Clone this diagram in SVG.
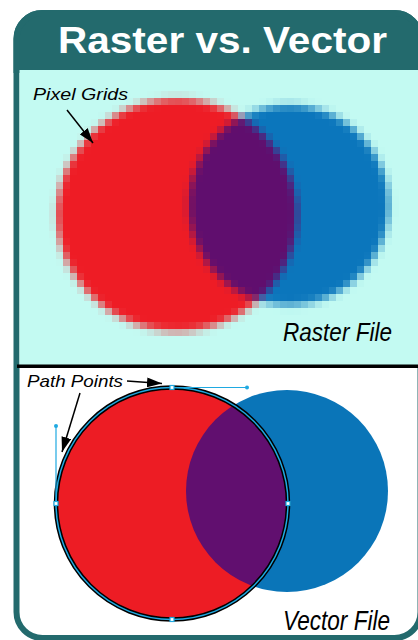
<svg xmlns="http://www.w3.org/2000/svg" width="418" height="640" viewBox="0 0 418 640">
  <style>
    .title { font-family: "Liberation Sans", Arial, sans-serif; font-weight: bold; fill: #ffffff; }
    .lbl { font-family: "Liberation Sans", Arial, sans-serif; font-style: italic; fill: #000000; }
    .conn { stroke: #000000; stroke-width: 1.5; fill: none; marker-end: url(#arr); }
    .handle { stroke: #1fa9e1; stroke-width: 1.2; fill: none; }
    .anchor { fill: #ffffff; stroke: #1fa9e1; stroke-width: 1.2; }
    .hdot { fill: #1fa9e1; }
  </style>
  <defs>
    <marker id="arr" markerUnits="userSpaceOnUse" markerWidth="16" markerHeight="10" refX="15" refY="5" orient="auto">
      <path d="M0,0 L15,5 L0,10 Z" fill="#000000"/>
    </marker>
    <filter id="pixelate" filterUnits="userSpaceOnUse" primitiveUnits="userSpaceOnUse" x="0" y="0" width="418" height="364" color-interpolation-filters="sRGB">
      <feGaussianBlur in="SourceGraphic" stdDeviation="3.2" result="b"/>
      <feFlood x="3" y="3" width="1" height="1" flood-color="#000000" flood-opacity="1"/>
      <feOffset dx="0" dy="0" x="0" y="0" width="7" height="7"/>
      <feTile x="0" y="0" width="418" height="364" result="t"/>
      <feComposite in="b" in2="t" operator="in"/>
      <feMorphology operator="dilate" radius="3"/>
    </filter>
    <clipPath id="rasterRed">
      <ellipse cx="177" cy="215" rx="120" ry="116"/>
    </clipPath>
    <clipPath id="vectorRed">
      <circle cx="172" cy="503.5" r="116"/>
    </clipPath>
  </defs>

  <rect width="418" height="640" fill="#ffffff"/>

  <g id="frame">
    <rect x="16.5" y="13" width="404" height="625" rx="26" fill="#ffffff" stroke="#236a6d" stroke-width="6"/>
    <path d="M16.5,70 V39 A26,26 0 0 1 42.5,13 H394.5 A26,26 0 0 1 420.5,39 V70 Z" fill="#236a6d" stroke="#236a6d" stroke-width="6"/>
    <rect x="19.5" y="70" width="400" height="295" fill="#c3faf2"/>
    <rect x="17" y="364.5" width="402" height="3.5" fill="#000000"/>
    <text class="title" x="58" y="53" font-size="37" textLength="329" lengthAdjust="spacingAndGlyphs">Raster vs. Vector</text>
  </g>

  <g id="raster-art" filter="url(#pixelate)">
    <ellipse cx="177" cy="215" rx="120" ry="116" fill="#ee1c25"/>
    <circle cx="289" cy="205" r="100" fill="#0b76bc"/>
    <circle cx="289" cy="205" r="100" fill="#600e6e" clip-path="url(#rasterRed)"/>
  </g>

  <g id="vector-art">
    <circle cx="287" cy="491" r="101" fill="#0a75b8"/>
    <circle cx="172" cy="503.5" r="116" fill="#ed1c24"/>
    <circle cx="287" cy="491" r="101" fill="#610f6f" clip-path="url(#vectorRed)"/>
    <circle cx="172" cy="503.5" r="116" fill="none" stroke="#000000" stroke-width="4.5"/>
    <circle cx="172" cy="503.5" r="116" fill="none" stroke="#1fa9e1" stroke-width="1.5"/>
    <line class="handle" x1="172" y1="387.5" x2="247" y2="387.5"/>
    <line class="handle" x1="56" y1="426" x2="56" y2="503.5"/>
    <circle class="hdot" cx="247" cy="387.5" r="2"/>
    <circle class="hdot" cx="56" cy="426" r="2"/>
    <rect class="anchor" x="170" y="385.5" width="4" height="4"/>
    <rect class="anchor" x="54" y="501.5" width="4" height="4"/>
    <rect class="anchor" x="286" y="501.5" width="4" height="4"/>
    <rect class="anchor" x="170" y="617.5" width="4" height="4"/>
  </g>

  <g id="labels">
    <text class="lbl" x="33" y="100" font-size="17" textLength="95" lengthAdjust="spacingAndGlyphs">Pixel Grids</text>
    <text class="lbl" x="283" y="341" font-size="25" textLength="109" lengthAdjust="spacingAndGlyphs">Raster File</text>
    <text class="lbl" x="27" y="387" font-size="17" textLength="96" lengthAdjust="spacingAndGlyphs">Path Points</text>
    <text class="lbl" x="283" y="630" font-size="27" textLength="107" lengthAdjust="spacingAndGlyphs">Vector File</text>
  </g>

  <g id="connectors">
    <line class="conn" x1="67" y1="110" x2="93" y2="143"/>
    <line class="conn" x1="127" y1="381" x2="162" y2="383.5"/>
    <line class="conn" x1="80" y1="393" x2="62" y2="452"/>
  </g>
</svg>
